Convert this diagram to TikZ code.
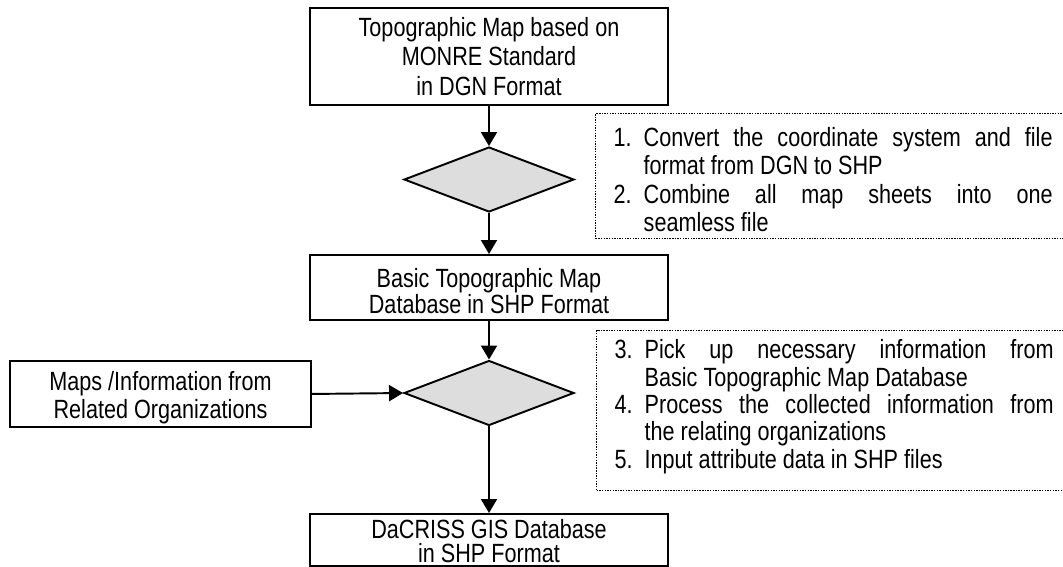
\documentclass[tikz,border=0pt]{standalone}
\usepackage{fontspec}
\setmainfont{Liberation Sans}[FakeStretch=0.82]
\usetikzlibrary{arrows.meta,shapes.geometric}
\definecolor{choicegray}{RGB}{221,221,221}
\newcommand{\stepitem}[1]{\hangindent=0.6cm\hangafter=1\noindent\makebox[0.6cm][l]{#1}}

\begin{document}
\begin{tikzpicture}[x=0.02cm,y=-0.02cm,
	box/.style={draw,line width=1.1pt,align=center,minimum width=7.16cm,inner sep=0pt,font=\fontsize{15pt}{16pt}\selectfont},
	choice/.style={draw,line width=1.1pt,diamond,fill=choicegray,minimum width=3.4cm,minimum height=1.3cm,inner sep=0pt},
	note/.style={draw,line width=0.8pt,dash pattern=on 0.8pt off 0.7pt,anchor=north west,text width=8.78cm,inner xsep=0.36cm,inner ysep=0pt,align=justify},
	flow/.style={line width=1.1pt,-{Triangle[length=0.28cm,width=0.32cm]}}]
	\useasboundingbox (0,0) rectangle (1063,566);
	\node[box,minimum height=1.94cm,font=\fontsize{15pt}{17pt}\selectfont] (topomap) at (489,56.5) {Topographic Map based on\\MONRE Standard\\in DGN Format};
	\node[choice] (convert) at (489,179.5) {};
	\node[box,anchor=north,font=\fontsize{15pt}{15.3pt}\selectfont,text height=1.18cm,text depth=0.12cm] (basicdb) at (489,254) {Basic Topographic Map\\Database in SHP Format};
	\node[choice] (merge) at (489,393) {};
	\node[box,anchor=north,minimum width=6.02cm,text height=1.16cm,text depth=0.16cm] (related) at (160.5,360) {Maps /Information from\\Related Organizations};
	\node[box,anchor=north,font=\fontsize{15pt}{13.7pt}\selectfont,text height=0.98cm,text depth=0.06cm] (gisdb) at (489,513) {DaCRISS GIS Database\\in SHP Format};
	\node[note,font=\fontsize{15pt}{16.1pt}\selectfont,text height=0.66cm,text depth=1.84cm] (convnote) at (595,113) {\stepitem{1.}Convert the coordinate system and file\linebreak format from DGN to SHP\par
		\stepitem{2.}Combine all map sheets into one\linebreak seamless file\par};
	\node[note,font=\fontsize{15pt}{15.6pt}\selectfont,text height=0.56cm,text depth=2.64cm] (procnote) at (596,330) {\stepitem{3.}Pick up necessary information from\linebreak Basic Topographic Map Database\par
		\stepitem{4.}Process the collected information from\linebreak the relating organizations\par
		\stepitem{5.}Input attribute data in SHP files\par};
	\draw[flow] (topomap.south) -- (convert.north);
	\draw[flow] (convert.south) -- (basicdb.north);
	\draw[flow] (basicdb.south) -- (merge.north);
	\draw[flow] (related.east) -- (merge.west);
	\draw[flow] (merge.south) -- (gisdb.north);
\end{tikzpicture}
\end{document}
